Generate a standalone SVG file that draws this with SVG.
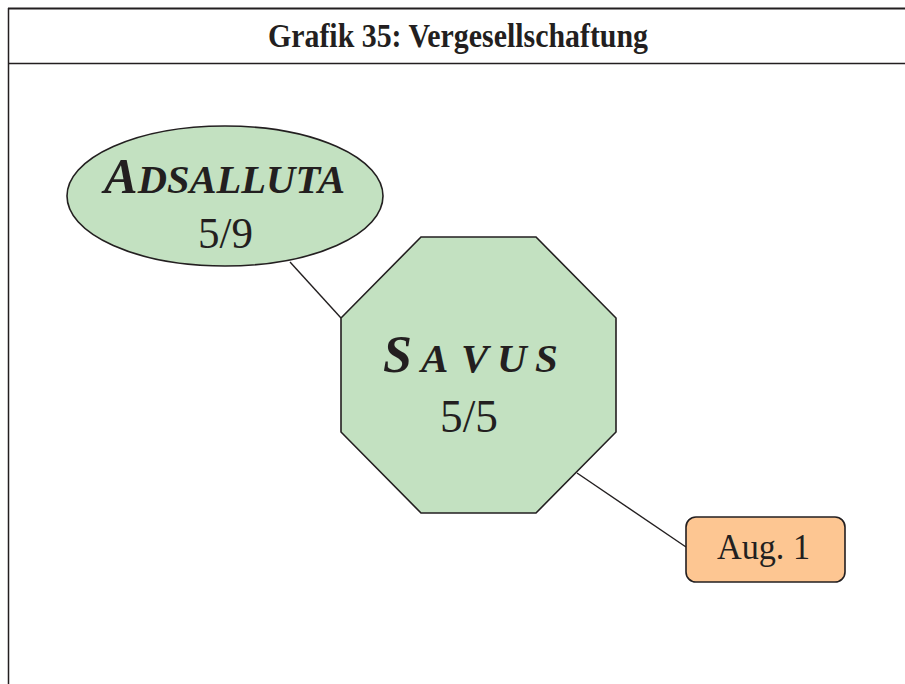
<svg xmlns="http://www.w3.org/2000/svg" width="905" height="684" viewBox="0 0 905 684">
<style>
.t{font-family:"Liberation Serif","Times New Roman",serif;fill:#231f20}
.green{fill:#c3e1c1;stroke:#231f20;stroke-width:1.6}
.orange{fill:#fdc692;stroke:#231f20;stroke-width:1.6}
.conn{stroke:#231f20;stroke-width:1.4;fill:none}
.frame{stroke:#231f20;fill:none}
.bi{font-weight:bold;font-style:italic}
</style>
<rect width="905" height="684" fill="#ffffff"/>
<g id="frame">
<line class="frame" x1="8" y1="8.5" x2="905" y2="8.5" stroke-width="2"/>
<line class="frame" x1="8.5" y1="8" x2="8.5" y2="684" stroke-width="1.5"/>
<line class="frame" x1="8" y1="63.5" x2="905" y2="63.5" stroke-width="1.5"/>
<text class="t" x="268" y="47" font-size="33" font-weight="bold" textLength="380" lengthAdjust="spacingAndGlyphs">Grafik 35: Vergesellschaftung</text>
</g>
<g id="connectors">
<line class="conn" x1="290" y1="262" x2="341" y2="318"/>
<line class="conn" x1="577" y1="473" x2="686" y2="547"/>
</g>
<g id="node-adsalluta">
<ellipse class="green" cx="225" cy="196" rx="158" ry="70"/>
<text class="t bi" x="104" y="193" textLength="241" lengthAdjust="spacingAndGlyphs"><tspan font-size="51">A</tspan><tspan font-size="41">DSALLUTA</tspan></text>
<text class="t" x="198" y="248" font-size="45" textLength="55" lengthAdjust="spacingAndGlyphs">5/9</text>
</g>
<g id="node-savus">
<polygon class="green" points="421,237 536,237 616,318 616,432 536,513 421,513 341,432 341,318"/>
<text class="t bi" y="372"><tspan x="383" font-size="52">S</tspan><tspan x="421" font-size="41">A</tspan><tspan x="461" font-size="41">V</tspan><tspan x="497" font-size="41">U</tspan><tspan x="535" font-size="41">S</tspan></text>
<text class="t" x="440" y="432" font-size="46" textLength="58" lengthAdjust="spacingAndGlyphs">5/5</text>
</g>
<g id="node-aug1">
<rect class="orange" x="686" y="517" width="159" height="65" rx="10" ry="10"/>
<text class="t" x="717" y="559" font-size="36" textLength="93" lengthAdjust="spacingAndGlyphs">Aug. 1</text>
</g>
</svg>
